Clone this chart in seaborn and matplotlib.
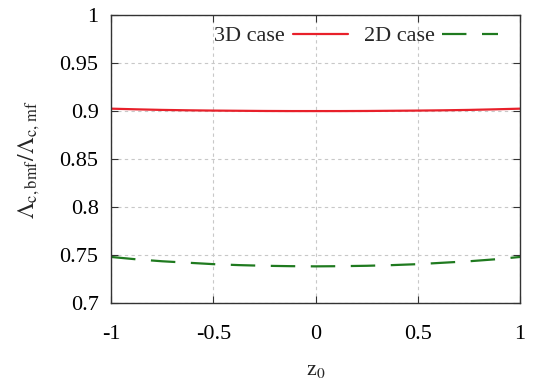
import matplotlib
matplotlib.use("Agg")
import matplotlib.pyplot as plt
import numpy as np
import pandas as pd
import seaborn as sns

# values
z0 = [-1.0, -0.875, -0.75, -0.625, -0.5, -0.375, -0.25, -0.125, 0.0,
      0.125, 0.25, 0.375, 0.5, 0.625, 0.75, 0.875, 1.0]
ratio_3d = [0.9025, 0.9018, 0.9012, 0.9008, 0.9005, 0.9003, 0.9001, 0.9000, 0.9000,
            0.9000, 0.9001, 0.9003, 0.9005, 0.9008, 0.9012, 0.9018, 0.9025]
ratio_2d = [0.7480, 0.7455, 0.7435, 0.7420, 0.7405, 0.7395, 0.7388, 0.7384, 0.7382,
            0.7384, 0.7388, 0.7395, 0.7405, 0.7420, 0.7435, 0.7455, 0.7480]
series_names = ["3D case", "2D case"]
x_ticks = [-1, -0.5, 0, 0.5, 1]
x_tick_labels = ["-1", "-0.5", "0", "0.5", "1"]
y_ticks = [0.7, 0.75, 0.8, 0.85, 0.9, 0.95, 1.0]
y_tick_labels = ["0.7", "0.75", "0.8", "0.85", "0.9", "0.95", "1"]

df = pd.DataFrame({
    "z0": z0 * 2,
    "ratio": ratio_3d + ratio_2d,
    "case": [series_names[0]] * len(z0) + [series_names[1]] * len(z0),
})

sns.set_style("ticks")
plt.rcParams["font.family"] = ["Liberation Serif", "DejaVu Serif"]
plt.rcParams["mathtext.fontset"] = "stix"

fig = plt.figure(figsize=(5.34, 3.87), dpi=100)
ax = fig.add_axes([0.208, 0.217, 0.766, 0.744])

sns.lineplot(data=df, x="z0", y="ratio", hue="case", style="case",
             palette={"3D case": "#e8202a", "2D case": "#1f7a1f"},
             dashes={"3D case": "", "2D case": (11, 7)},
             linewidth=1.6, ax=ax, legend=True)

ax.set_xlim(-1, 1)
ax.set_ylim(0.7, 1.0)
ax.set_xticks(x_ticks)
ax.set_xticklabels(x_tick_labels)
ax.set_yticks(y_ticks)
ax.set_yticklabels(y_tick_labels)
ax.tick_params(axis="both", direction="in", length=5, width=0.8, labelsize=16,
               top=True, right=True, colors="#333333", labelcolor="black")
ax.tick_params(axis="x", pad=16)
ax.tick_params(axis="y", pad=9)
ax.grid(True, linestyle=(0, (3, 3)), color="#c8c8c8", linewidth=0.8)
for s in ax.spines.values():
    s.set_color("#333333")
    s.set_linewidth(1.0)

ax.set_xlabel(r"z$_0$", fontsize=16, labelpad=12)
ax.set_ylabel(r"$\Lambda_{\mathrm{c,bmf}}/\Lambda_{\mathrm{c,\,mf}}$", fontsize=17, labelpad=13)

handles, labels = ax.get_legend_handles_labels()
leg = ax.legend(handles, labels, loc="upper right", ncol=2, markerfirst=False,
                frameon=False, fontsize=16, handlelength=2.5, handletextpad=0.35,
                columnspacing=0.7, bbox_to_anchor=(1.0, 1.04), borderaxespad=0.6)

fig.savefig("out.png", dpi=100)
